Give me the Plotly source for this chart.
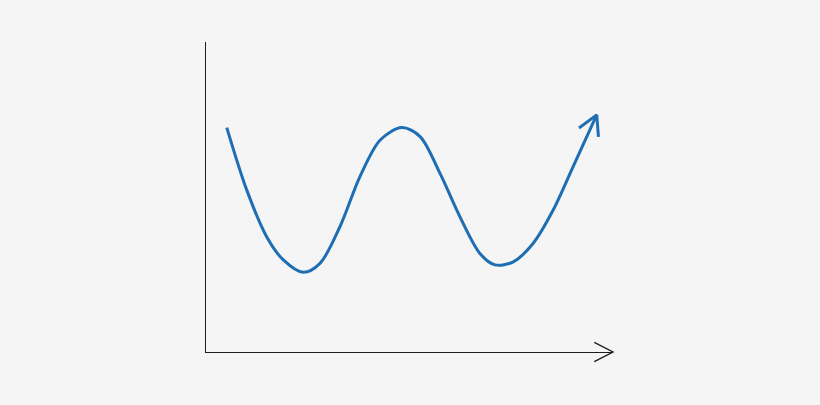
import math

import plotly.graph_objects as go

# W-shaped curve (arbitrary units, axes 0..10)
curve_x = [0.51, 1.00, 1.49, 1.90, 2.39, 2.80, 3.29, 3.78, 4.28, 4.81,
           5.26, 5.75, 6.24, 6.73, 7.10, 7.55, 8.04, 8.53, 9.02, 9.60]
curve_y = [7.24, 5.23, 3.72, 2.97, 2.57, 2.86, 4.04, 5.65, 6.84, 7.24,
           6.95, 5.76, 4.36, 3.18, 2.81, 2.91, 3.51, 4.58, 5.98, 7.65]

X_RANGE = [0, 10]
Y_RANGE = [0, 10]

W, H = 820, 405
M_L, M_R, M_T, M_B = 206, 207, 42, 53
BG = "#f5f5f5"
BLUE = "#1f6db3"
AXIS = "#1e1e1e"

plot_w = W - M_L - M_R
plot_h = H - M_T - M_B
px_x = plot_w / (X_RANGE[1] - X_RANGE[0])
px_y = plot_h / (Y_RANGE[1] - Y_RANGE[0])


def chevron(x0, y0, x1, y1, sx, sy, length, half_angle):
    # open arrowhead at (x1, y1) pointing along x0,y0 -> x1,y1
    # sx, sy: pixels per unit in each direction
    ang = math.atan2((y1 - y0) * sy, (x1 - x0) * sx) + math.pi
    xs, ys = [], []
    for s in (1, 0, -1):
        if s == 0:
            xs.append(x1)
            ys.append(y1)
            continue
        a = ang + s * math.radians(half_angle)
        xs.append(x1 + length * math.cos(a) / sx)
        ys.append(y1 + length * math.sin(a) / sy)
    return xs, ys


fig = go.Figure()

fig.add_trace(go.Scatter(
    x=curve_x, y=curve_y, mode="lines",
    line=dict(color=BLUE, width=3, shape="spline", smoothing=0.9),
    hoverinfo="skip",
))

hx, hy = chevron(curve_x[-2], curve_y[-2], curve_x[-1], curve_y[-1],
                 px_x, px_y, 22, 29)
fig.add_trace(go.Scatter(
    x=hx, y=hy, mode="lines",
    line=dict(color=BLUE, width=3), hoverinfo="skip",
))

# arrowhead on the x axis, in paper units so it is not clipped
ax, ay = chevron(0, 0, 1, 0, plot_w, plot_h, 21, 27)
fig.add_shape(
    type="path", xref="paper", yref="paper",
    path="M {} {} L {} {} L {} {}".format(ax[0], ay[0], ax[1], ay[1], ax[2], ay[2]),
    line=dict(color=AXIS, width=1.4),
)

fig.update_layout(
    width=W, height=H,
    margin=dict(l=M_L, r=M_R, t=M_T, b=M_B),
    paper_bgcolor=BG, plot_bgcolor=BG,
    showlegend=False,
    xaxis=dict(range=X_RANGE, showgrid=False, zeroline=False,
               showticklabels=False, ticks="", showline=True,
               linecolor=AXIS, linewidth=1.4, fixedrange=True),
    yaxis=dict(range=Y_RANGE, showgrid=False, zeroline=False,
               showticklabels=False, ticks="", showline=True,
               linecolor=AXIS, linewidth=1.4, fixedrange=True),
)

fig.write_html("out.html", config={"displayModeBar": False},
               post_script="document.body.style.margin='0';"
                           "document.body.style.background='#f5f5f5';")
